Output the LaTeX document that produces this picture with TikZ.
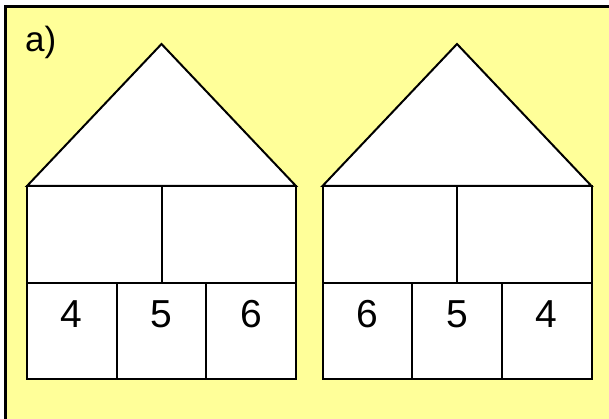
\documentclass[tikz,border=0pt]{standalone}
\usepackage{fontspec}
\setmainfont{Liberation Sans}
\definecolor{paper}{HTML}{FFFF99}
\begin{document}
\begin{tikzpicture}[x=1pt,y=-1pt,
    wall/.style={draw=black,fill=white,line width=2pt,line join=miter},
    digit/.style={font=\fontsize{39}{39}\selectfont,inner sep=0pt},
  ]
  \useasboundingbox (0,0) rectangle (609,419);

  % -- the sheet --
  \fill[paper] (5,7) rectangle (609,419);
  \draw[line width=3pt] (5,419) -- (5,7) -- (609,7);
  \node[font=\fontsize{35}{35}\selectfont,inner sep=0pt,anchor=base west] (tag) at (25,52) {a)};

  % -- the two houses --
  \foreach \h/\x/\a/\b/\c in {l/27/4/5/6, r/322.5/6/5/4}{%
    \begin{scope}[shift={(\x,0)}]
      \draw[wall] (0,186) -- (134.5,44) -- (269,186) -- cycle;
      \draw[wall] (0,186) rectangle (269,379);
      \draw[wall] (0,283) -- (269,283);
      \draw[wall] (134.5,186) -- (134.5,283);
      \draw[wall] (89.7,283) -- (89.7,379);
      \draw[wall] (179.3,283) -- (179.3,379);
      \node[digit] (\h1) at (44.8,314) {\a};
      \node[digit] (\h2) at (134.5,314) {\b};
      \node[digit] (\h3) at (224.2,314) {\c};
    \end{scope}}
\end{tikzpicture}
\end{document}
